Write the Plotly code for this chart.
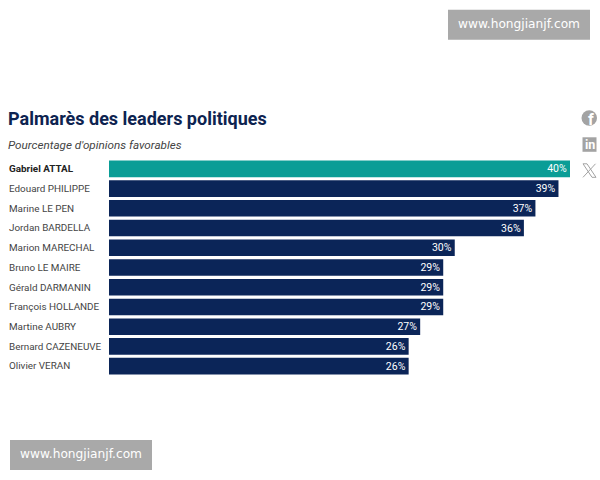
import plotly.graph_objects as go

leaders = ["Gabriel ATTAL", "Edouard PHILIPPE", "Marine LE PEN", "Jordan BARDELLA",
           "Marion MARECHAL", "Bruno LE MAIRE", "Gérald DARMANIN", "François HOLLANDE",
           "Martine AUBRY", "Bernard CAZENEUVE", "Olivier VERAN"]
favorable = [40, 39, 37, 36, 30, 29, 29, 29, 27, 26, 26]

TEAL = "#0a9d96"
NAVY = "#0b2558"
GREY = "#a3a3a3"
W, H = 600, 480
L, R, T, B = 109, 570, 159.2, 376


def px(x):
    return (x - L) / (R - L)


def py(y):
    return (B - y) / (B - T)


fig = go.Figure(go.Bar(
    x=favorable, y=leaders, orientation="h",
    marker=dict(color=[TEAL] + [NAVY] * (len(leaders) - 1), line_width=0),
    width=0.84,
    text=[f"{v}%" for v in favorable],
    textposition="inside", insidetextanchor="end", constraintext="none",
    textangle=0,
    insidetextfont=dict(family="Roboto", size=10.5, color="white"),
    cliponaxis=False, hoverinfo="skip",
))

annotations = []


def label(x, y, text, size, color, anchor="left", family="Roboto"):
    annotations.append(dict(
        x=px(x), y=py(y), xref="paper", yref="paper", text=text, showarrow=False,
        xanchor=anchor, yanchor="middle", align=anchor,
        font=dict(family=family, size=size, color=color),
    ))


label(6, 119, "<b>Palmarès des leaders politiques</b>", 18, "#0d2350")
label(6, 145.5, "<i>Pourcentage d'opinions favorables</i>", 11.7, "#444444")
for i, name in enumerate(leaders):
    text = f"<b>{name}</b>" if i == 0 else name
    label(7, 169 + i * 19.7, text, 9.9, "#222222" if i == 0 else "#444444")

shapes = []


def rect(x0, y0, x1, y1, color):
    shapes.append(dict(type="rect", xref="paper", yref="paper", layer="above",
                       x0=px(x0), x1=px(x1), y0=py(y0), y1=py(y1),
                       fillcolor=color, line_width=0))


# Website banners
rect(448, 10, 590, 40, "#a9a9a9")
rect(10, 440, 152, 470, "#a9a9a9")
label(518.5, 24, "www.hongjianjf.com", 12.2, "white", "center", "DejaVu Sans")
label(80.5, 454, "www.hongjianjf.com", 12.2, "white", "center", "DejaVu Sans")

# Share icons
shapes.append(dict(type="circle", xref="paper", yref="paper", layer="above",
                   x0=px(581.5), x1=px(597), y0=py(110.5), y1=py(126),
                   fillcolor=GREY, line_width=0))
label(590.5, 119.5, "<b>f</b>", 16, "white", "center")
rect(582.5, 137.5, 596.5, 152, GREY)
label(589.5, 145, "<b>in</b>", 12.5, "white", "center")


def outline(points):
    return "M " + " L ".join(f"{px(x)},{py(y)}" for x, y in points) + " Z"


shapes.append(dict(type="path", xref="paper", yref="paper", layer="above",
                   path=outline([(583, 164), (587, 164), (596, 177.5), (592, 177.5)]),
                   line=dict(color=GREY, width=1)))
shapes.append(dict(type="line", xref="paper", yref="paper", layer="above",
                   x0=px(595.5), y0=py(164), x1=px(583), y1=py(177.5),
                   line=dict(color=GREY, width=1)))

fig.update_layout(
    width=W, height=H, autosize=False,
    margin=dict(l=L, r=W - R, t=T, b=H - B, pad=0),
    paper_bgcolor="white", plot_bgcolor="white", showlegend=False,
    xaxis=dict(range=[0, 40], visible=False, fixedrange=True),
    yaxis=dict(autorange="reversed", visible=False, fixedrange=True),
    annotations=annotations, shapes=shapes,
)
fig.write_html("out.html", config=dict(displayModeBar=False))
